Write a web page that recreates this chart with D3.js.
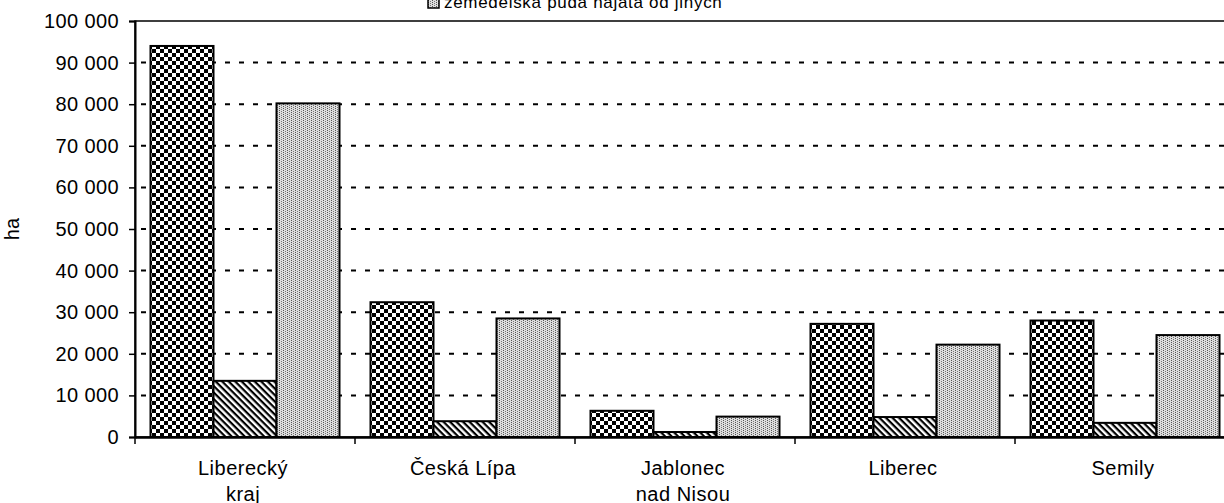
<!DOCTYPE html>
<html>
<head>
<meta charset="utf-8">
<script src="https://cdn.jsdelivr.net/npm/d3@7"></script>
<style>
  html, body { margin: 0; padding: 0; background: #fff; overflow: hidden; }
  svg { display: block; font-family: 'Liberation Sans', Arial, sans-serif; }
</style>
</head>
<body>
<script>
const categories = ['Liberecký kraj', 'Česká Lípa', 'Jablonec nad Nisou', 'Liberec', 'Semily'];
const categoryLines = [['Liberecký', 'kraj'], ['Česká Lípa'], ['Jablonec', 'nad Nisou'], ['Liberec'], ['Semily']];
const seriesNames = ['zemědělská půda celkem', 'zemědělská půda vlastní', 'zemědělská půda najatá od jiných'];
const totalArea = [94000, 32400, 6300, 27200, 28000];
const ownArea = [13500, 3800, 1200, 4800, 3400];
const rentedArea = [80200, 28500, 4900, 22200, 24500];
const yTicks = [0, 10000, 20000, 30000, 40000, 50000, 60000, 70000, 80000, 90000, 100000];

const width = 1224;
const height = 503;
const plotLeft = 135;
const plotRight = 1235;
const plotTop = 21;
const plotBottom = 437;

const seriesValues = [totalArea, ownArea, rentedArea];
const patternIds = ['checker', 'diag', 'dots'];

const svg = d3.select('body')
  .append('svg')
  .attr('width', width)
  .attr('height', height)

// Patterns
const defs = svg.append('defs')

const checker = defs.append('pattern')
  .attr('id', 'checker')
  .attr('patternUnits', 'userSpaceOnUse')
  .attr('width', 8)
  .attr('height', 8)
  .attr('x', 1)
  .attr('y', 1)
checker.append('rect').attr('width', 8).attr('height', 8).attr('fill', '#fff')
checker.append('rect').attr('width', 4).attr('height', 4).attr('fill', '#000')
checker.append('rect').attr('x', 4).attr('y', 4).attr('width', 4).attr('height', 4).attr('fill', '#000')

const diag = defs.append('pattern')
  .attr('id', 'diag')
  .attr('patternUnits', 'userSpaceOnUse')
  .attr('width', 10)
  .attr('height', 4.6)
  .attr('patternTransform', 'rotate(45)')
diag.append('rect').attr('width', 10).attr('height', 4.6).attr('fill', '#fff')
diag.append('rect').attr('width', 10).attr('height', 2.2).attr('fill', '#000')

const dots = defs.append('pattern')
  .attr('id', 'dots')
  .attr('patternUnits', 'userSpaceOnUse')
  .attr('width', 4)
  .attr('height', 2)
dots.append('rect').attr('width', 4).attr('height', 2).attr('fill', '#dedede')
dots.append('rect').attr('x', 0).attr('y', 0).attr('width', 1).attr('height', 1).attr('fill', '#555')
dots.append('rect').attr('x', 2).attr('y', 1).attr('width', 1).attr('height', 1).attr('fill', '#777')

// Scales
const xScale = d3.scaleBand()
  .domain(categories)
  .range([plotLeft, plotRight])

const innerScale = d3.scaleBand()
  .domain(d3.range(seriesNames.length))
  .range([15.5, 204.5])

const yScale = d3.scaleLinear()
  .domain([0, 100000])
  .range([plotBottom, plotTop])

const fmt = d3.formatLocale({ decimal: ',', thousands: ' ', grouping: [3], currency: ['', ''] }).format(',d')

// Gridlines
svg.append('g')
  .selectAll('line')
  .data(yTicks.filter(t => t > 0 && t < 100000))
  .enter()
  .append('line')
  .attr('x1', plotLeft)
  .attr('x2', plotRight)
  .attr('y1', d => yScale(d))
  .attr('y2', d => yScale(d))
  .style('stroke', '#000')
  .style('stroke-width', 2)
  .style('stroke-dasharray', '5,9')
  .style('stroke-dashoffset', -6)

// Plot area border
svg.append('rect')
  .attr('x', plotLeft)
  .attr('y', plotTop)
  .attr('width', plotRight - plotLeft)
  .attr('height', plotBottom - plotTop)
  .style('fill', 'none')
  .style('stroke', '#000')
  .style('stroke-width', 1.5)

// Bars
const groups = svg.append('g')
  .selectAll('g')
  .data(categories)
  .enter()
  .append('g')
  .attr('transform', d => `translate(${xScale(d)},0)`)

groups.selectAll('rect')
  .data((c, i) => seriesValues.map((vals, s) => ({ s, v: vals[i] })))
  .enter()
  .append('rect')
  .attr('x', d => innerScale(d.s))
  .attr('y', d => yScale(d.v))
  .attr('width', innerScale.bandwidth())
  .attr('height', d => plotBottom - yScale(d.v))
  .style('fill', d => `url(#${patternIds[d.s]})`)
  .style('stroke', '#000')
  .style('stroke-width', 2)

// y-axis
const yAxis = d3.axisLeft(yScale)
  .tickValues(yTicks)
  .tickFormat(fmt)
  .tickSize(6)
  .tickPadding(10)

const yG = svg.append('g')
  .attr('transform', `translate(${plotLeft},0)`)
  .call(yAxis)
yG.select('.domain').style('stroke-width', 2)
yG.selectAll('.tick line').style('stroke-width', 1.5)
yG.selectAll('.tick text')
  .style('font-size', '20px')
  .style('letter-spacing', '0.4px')
  .style('fill', '#000')
  .style('font-family', "'Liberation Sans', Arial, sans-serif")

// x-axis
const xAxis = d3.axisBottom(xScale)
  .tickValues([])
  .tickSizeOuter(0)

const xG = svg.append('g')
  .attr('transform', `translate(0,${plotBottom})`)
  .call(xAxis)
xG.select('.domain').style('stroke-width', 2.5)

xG.selectAll('.boundary')
  .data(categories)
  .enter()
  .append('line')
  .attr('class', 'boundary')
  .attr('x1', d => xScale(d))
  .attr('x2', d => xScale(d))
  .attr('y1', 0)
  .attr('y2', 7)
  .style('stroke', '#000')
  .style('stroke-width', 1.5)

const labels = xG.selectAll('.cat-label')
  .data(categories)
  .enter()
  .append('text')
  .attr('class', 'cat-label')
  .attr('text-anchor', 'middle')
  .attr('transform', d => `translate(${xScale(d) + xScale.bandwidth() / 2 - 2},0)`)
  .style('font-size', '20px')
  .style('letter-spacing', '0.5px')
  .style('fill', '#000')

labels.selectAll('tspan')
  .data((d, i) => categoryLines[i])
  .enter()
  .append('tspan')
  .attr('x', 0)
  .attr('y', (d, i) => 38 + i * 26)
  .text(d => d)

// y-axis title
svg.append('text')
  .text('ha')
  .attr('transform', `translate(19, ${(plotTop + plotBottom) / 2}) rotate(-90)`)
  .attr('text-anchor', 'middle')
  .style('font-size', '20px')

// Legend (top, mostly cut off above the frame)
const legend = svg.append('g')
  .attr('transform', 'translate(428,0)')

const legendItems = legend.selectAll('g')
  .data(seriesNames)
  .enter()
  .append('g')
  .attr('transform', (d, i) => `translate(0,${(i - 2) * 22})`)

legendItems.append('rect')
  .attr('x', 0)
  .attr('y', -3)
  .attr('width', 11)
  .attr('height', 11)
  .style('fill', (d, i) => `url(#${patternIds[i]})`)
  .style('stroke', '#000')
  .style('stroke-width', 1.5)

legendItems.append('text')
  .attr('x', 16)
  .attr('y', 8)
  .text(d => d)
  .style('font-size', '17px')
  .style('letter-spacing', '0.7px')
</script>
</body>
</html>
